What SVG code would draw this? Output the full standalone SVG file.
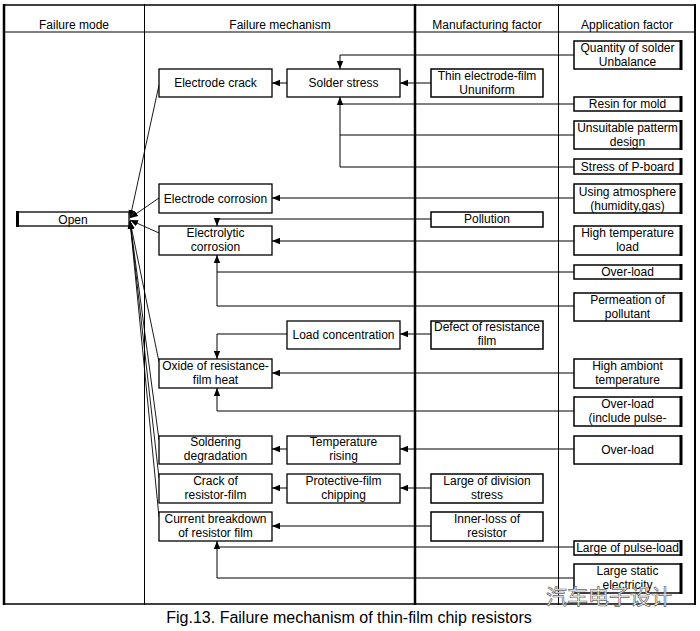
<svg xmlns="http://www.w3.org/2000/svg" width="700" height="631" viewBox="0 0 700 631">
<defs>
<marker id="arr" viewBox="0 0 10 10" refX="10" refY="5" markerWidth="8" markerHeight="8" markerUnits="userSpaceOnUse" orient="auto"><path d="M0,1 L10,5 L0,9 z" fill="#000"/></marker>
<style>
text{font-family:"Liberation Sans",Arial,sans-serif;font-size:12px;fill:#000;text-anchor:middle}
.box{fill:#fff;stroke:#000;stroke-width:1.3}
.app{fill:#fff;stroke:#000;stroke-width:1.5}
.edge{stroke:#000;stroke-width:3;fill:none}
.grid{stroke:#000;fill:none}
.c{stroke:#000;stroke-width:1;fill:none}
.a{stroke:#000;stroke-width:1;fill:none;marker-end:url(#arr)}
.f{stroke:#000;stroke-width:0.9;fill:none;marker-end:url(#arr)}
.cap{font-size:16px}
.wm{font-family:"Noto Sans CJK SC",sans-serif;font-size:21px;fill:#fff;stroke:#666;stroke-width:0.7}
</style>
</defs>
<rect width="700" height="631" fill="#fff"/>
<g id="table">
<line class="grid" x1="4" y1="5" x2="695" y2="5" stroke-width="1.5"/>
<line class="grid" x1="4" y1="32" x2="695" y2="32" stroke-width="1"/>
<line class="grid" x1="4" y1="604" x2="695" y2="604" stroke-width="1.5"/>
<line class="grid" x1="4" y1="4" x2="4" y2="605" stroke-width="2.5"/>
<line class="grid" x1="144.5" y1="4" x2="144.5" y2="605" stroke-width="1"/>
<line class="grid" x1="415" y1="4" x2="415" y2="605" stroke-width="2.5"/>
<line class="grid" x1="558.5" y1="4" x2="558.5" y2="605" stroke-width="1"/>
<line class="grid" x1="695" y1="4" x2="695" y2="605" stroke-width="2"/>
<text x="74" y="29">Failure mode</text>
<text x="280" y="29">Failure mechanism</text>
<text x="487" y="29">Manufacturing factor</text>
<text x="627" y="29">Application factor</text>
</g>
<g id="connectors">
<polyline class="a" points="574,55 340,55 340,69"/>
<line class="a" x1="431" y1="83" x2="400" y2="83"/>
<line class="a" x1="287" y1="83" x2="272" y2="83"/>
<line class="c" x1="574" y1="104" x2="340" y2="104"/>
<line class="c" x1="574" y1="135" x2="340" y2="135"/>
<line class="c" x1="574" y1="167" x2="340" y2="167"/>
<line class="a" x1="340" y1="167" x2="340" y2="97"/>
<line class="a" x1="574" y1="198" x2="272" y2="198"/>
<polyline class="a" points="431,219 217,219 217,226"/>
<line class="a" x1="574" y1="241" x2="272" y2="241"/>
<line class="c" x1="574" y1="272" x2="217" y2="272"/>
<line class="c" x1="574" y1="306" x2="217" y2="306"/>
<line class="a" x1="217" y1="306" x2="217" y2="255"/>
<line class="a" x1="431" y1="334" x2="400" y2="334"/>
<polyline class="a" points="287,334 217,334 217,359"/>
<line class="a" x1="574" y1="373" x2="272" y2="373"/>
<polyline class="a" points="574,411 217,411 217,388"/>
<line class="a" x1="574" y1="449" x2="400" y2="449"/>
<line class="a" x1="287" y1="449" x2="272" y2="449"/>
<line class="a" x1="431" y1="488" x2="400" y2="488"/>
<line class="a" x1="287" y1="488" x2="272" y2="488"/>
<line class="a" x1="431" y1="526" x2="272" y2="526"/>
<line class="c" x1="574" y1="547" x2="217" y2="547"/>
<line class="c" x1="574" y1="578" x2="217" y2="578"/>
<line class="a" x1="217" y1="578" x2="217" y2="541"/>
<line class="f" x1="159" y1="85" x2="130" y2="218"/>
<line class="f" x1="159" y1="198" x2="130" y2="218"/>
<line class="f" x1="159" y1="233" x2="130" y2="220"/>
<line class="f" x1="159" y1="362" x2="130" y2="221"/>
<line class="f" x1="159" y1="440" x2="130" y2="221"/>
<line class="f" x1="159" y1="478" x2="130" y2="221"/>
<line class="f" x1="159" y1="517" x2="130" y2="221"/>
</g>
<g id="open"><rect class="box" x="17" y="212" width="112" height="14"/><line class="edge" x1="17.5" y1="211" x2="17.5" y2="227" stroke-width="2"/><text x="73" y="224">Open</text></g>
<g id="electrode-crack"><rect class="box" x="159" y="69" width="113" height="28"/><text x="215.5" y="87">Electrode crack</text></g>
<g id="solder-stress"><rect class="box" x="287" y="69" width="113" height="28"/><text x="343.5" y="87">Solder stress</text></g>
<g id="thin-electrode"><rect class="app" x="431" y="69" width="112" height="28"/><text x="487" y="80">Thin electrode-film</text><text x="487" y="94">Ununiform</text></g>
<g id="quantity-solder"><rect class="app" x="574" y="41" width="107" height="28"/><line class="edge" x1="681" y1="40" x2="681" y2="70"/><text x="627.5" y="52">Quantity of solder</text><text x="627.5" y="66">Unbalance</text></g>
<g id="resin"><rect class="app" x="574" y="97" width="107" height="14"/><line class="edge" x1="681" y1="96" x2="681" y2="112"/><text x="627.5" y="108">Resin for mold</text></g>
<g id="pattern"><rect class="app" x="574" y="121" width="107" height="28" stroke-width="2"/><line class="edge" x1="681" y1="120" x2="681" y2="150"/><text x="627.5" y="132">Unsuitable patterm</text><text x="627.5" y="146">design</text></g>
<g id="pboard"><rect class="app" x="574" y="159" width="107" height="15"/><line class="edge" x1="681" y1="158" x2="681" y2="175"/><text x="627.5" y="171">Stress of P-board</text></g>
<g id="atmosphere"><rect class="app" x="574" y="184" width="107" height="29"/><line class="edge" x1="681" y1="183" x2="681" y2="214"/><text x="627.5" y="195.5">Using atmosphere</text><text x="627.5" y="209.5">(humidity,gas)</text></g>
<g id="electrode-corrosion"><rect class="box" x="159" y="184" width="113" height="29"/><text x="215.5" y="202.5">Electrode corrosion</text></g>
<g id="pollution"><rect class="app" x="431" y="212" width="112" height="15"/><text x="487" y="223">Pollution</text></g>
<g id="electrolytic"><rect class="box" x="159" y="226" width="113" height="29"/><text x="215.5" y="237">Electrolytic</text><text x="215.5" y="251">corrosion</text></g>
<g id="high-temp-load"><rect class="app" x="574" y="226" width="107" height="29"/><line class="edge" x1="681" y1="225" x2="681" y2="256"/><text x="627.5" y="237">High temperature</text><text x="627.5" y="251">load</text></g>
<g id="overload1"><rect class="app" x="574" y="265" width="107" height="14"/><line class="edge" x1="681" y1="264" x2="681" y2="280"/><text x="627.5" y="276">Over-load</text></g>
<g id="permeation"><rect class="app" x="574" y="293" width="107" height="28"/><line class="edge" x1="681" y1="292" x2="681" y2="322"/><text x="627.5" y="304">Permeation of</text><text x="627.5" y="318">pollutant</text></g>
<g id="load-concentration"><rect class="box" x="287" y="321" width="113" height="28"/><text x="343.5" y="339">Load concentration</text></g>
<g id="defect-film"><rect class="app" x="431" y="321" width="112" height="28" stroke-width="2"/><text x="487" y="331">Defect of resistance</text><text x="487" y="345">film</text></g>
<g id="oxide"><rect class="box" x="159" y="359" width="113" height="29"/><text x="215.5" y="370">Oxide of resistance-</text><text x="215.5" y="384">film heat</text></g>
<g id="high-ambient"><rect class="app" x="574" y="359" width="107" height="29"/><line class="edge" x1="681" y1="358" x2="681" y2="389"/><text x="627.5" y="370">High ambiont</text><text x="627.5" y="384">temperature</text></g>
<g id="overload-pulse"><rect class="app" x="574" y="397" width="107" height="29"/><line class="edge" x1="681" y1="396" x2="681" y2="427"/><text x="627.5" y="408">Over-load</text><text x="627.5" y="422">(include pulse-</text></g>
<g id="overload2"><rect class="app" x="574" y="436" width="107" height="28" stroke-width="2"/><line class="edge" x1="681" y1="435" x2="681" y2="465"/><text x="627.5" y="454">Over-load</text></g>
<g id="soldering"><rect class="box" x="159" y="436" width="113" height="28" stroke-width="2"/><text x="215.5" y="446">Soldering</text><text x="215.5" y="460">degradation</text></g>
<g id="temp-rising"><rect class="box" x="287" y="436" width="113" height="28" stroke-width="2"/><text x="343.5" y="446">Temperature</text><text x="343.5" y="460">rising</text></g>
<g id="crack-resistor"><rect class="box" x="159" y="474" width="113" height="29"/><text x="215.5" y="485">Crack of</text><text x="215.5" y="499">resistor-film</text></g>
<g id="protective"><rect class="box" x="287" y="474" width="113" height="29"/><text x="343.5" y="485">Protective-film</text><text x="343.5" y="499">chipping</text></g>
<g id="division-stress"><rect class="app" x="431" y="474" width="112" height="29" stroke-width="2"/><text x="487" y="485">Large of division</text><text x="487" y="499">stress</text></g>
<g id="current-breakdown"><rect class="box" x="159" y="512" width="113" height="29" stroke-width="1.6"/><text x="215.5" y="523">Current breakdown</text><text x="215.5" y="537">of resistor film</text></g>
<g id="inner-loss"><rect class="app" x="431" y="512" width="112" height="29" stroke-width="2"/><text x="487" y="523">Inner-loss of</text><text x="487" y="537">resistor</text></g>
<g id="pulse-load"><rect class="app" x="574" y="541" width="107" height="14"/><line class="edge" x1="681" y1="540" x2="681" y2="556"/><text x="627.5" y="552">Large of pulse-load</text></g>
<g id="static"><rect class="app" x="574" y="564" width="107" height="29" stroke-width="2"/><line class="edge" x1="681" y1="563" x2="681" y2="594"/><text x="627.5" y="575">Large static</text><text x="627.5" y="589">electricity</text></g>
<text class="cap" x="349" y="623">Fig.13. Failure mechanism of thin-film chip resistors</text>
<text class="wm" x="609" y="604">汽车电子设计</text>
</svg>
